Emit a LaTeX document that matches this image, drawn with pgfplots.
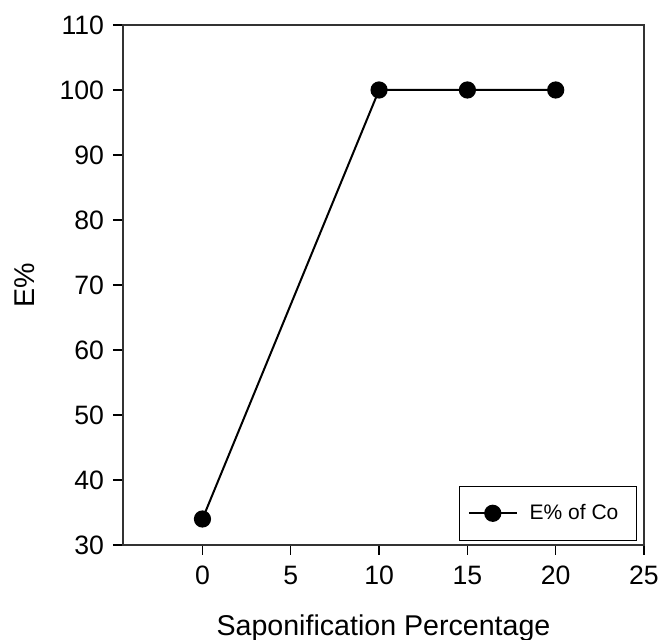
\documentclass[border=0pt]{standalone}
\usepackage{fontspec}
\setmainfont{Liberation Sans}
\usepackage{pgfplots}
\pgfplotsset{compat=1.18}
\begin{document}
\begin{tikzpicture}
\begin{axis}[
    name=ax,
    scale only axis,
    width=260.5pt,
    height=260pt,
    xmin=-4.5, xmax=25,
    ymin=30, ymax=110,
    xtick={0,5,10,15,20,25},
    ytick={30,40,50,60,70,80,90,100,110},
    xtick pos=left,
    ytick pos=left,
    tick align=outside,
    major tick length=5pt,
    tick style={black, line width=0.6pt},
    axis line style={line width=0.6pt, black!80},
    /pgf/number format/assume math mode=true,
    tick label style={font=\fontsize{13.3}{15}\selectfont},
    xticklabel style={yshift=-2pt},
    yticklabel style={xshift=-1pt},
    label style={font=\fontsize{14.3}{16}\selectfont},
    xlabel={Saponification Percentage},
    ylabel={E\%},
    xlabel style={at={(axis description cs:0.5,-0.16)}, anchor=center},
    ylabel style={at={(axis description cs:-0.188,0.5)}, anchor=center},
    legend style={
        at={(axis description cs:1,0)}, anchor=south east,
        xshift=-3.5pt, yshift=2pt,
        draw=black, line width=0.6pt,
        font=\fontsize{10.5}{12}\selectfont,
        inner xsep=4pt, inner ysep=7pt,
        nodes={inner sep=2pt},
    },
    legend cell align=left,
    legend image code/.code={
        \draw[mark repeat=2, mark phase=2]
            plot coordinates {(0cm,0cm) (0.42cm,0cm) (0.84cm,0cm)};
    },
]
\addplot[black, line width=1pt, mark=*, mark size=3.8pt,
    mark options={fill=black, solid}]
    coordinates {(0,34) (10,100) (15,100) (20,100)};
\addlegendentry{\hspace*{4pt}E\% of Co\hspace*{3pt}}
\end{axis}
\pgfresetboundingbox
\path[use as bounding box]
    ([xshift=-61.5pt, yshift=-47.5pt]ax.south west)
    rectangle ([xshift=8.5pt, yshift=12.5pt]ax.north east);
\end{tikzpicture}
\end{document}
